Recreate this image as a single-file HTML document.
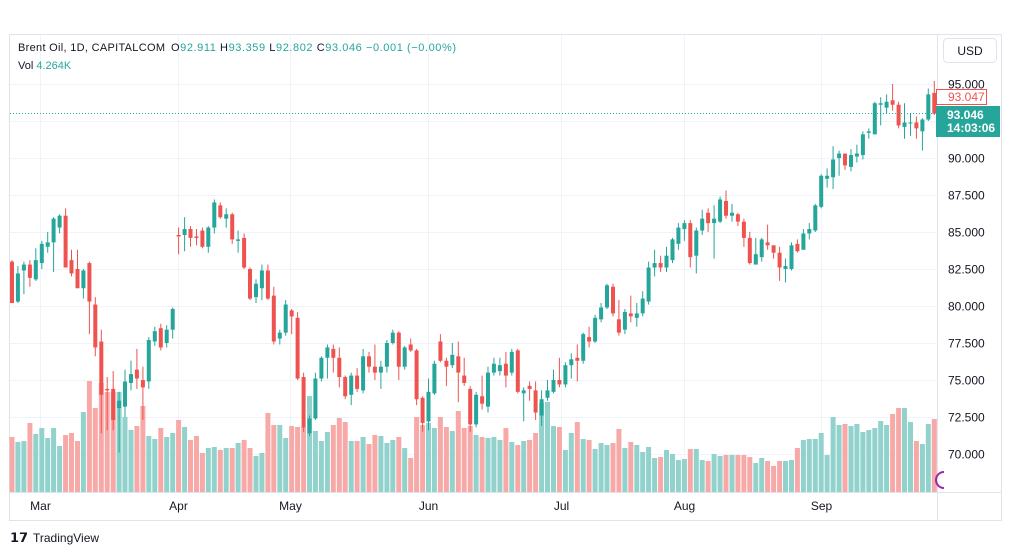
<!DOCTYPE html>
<html><head><meta charset="utf-8"><style>
html,body{margin:0;padding:0;background:#fff;width:1012px;height:555px;overflow:hidden;font-family:"Liberation Sans",sans-serif}
svg text{font-family:"Liberation Sans",sans-serif}
</style></head><body>
<svg id="chart" width="1012" height="555" xmlns="http://www.w3.org/2000/svg">
<rect x="9.5" y="34.5" width="992" height="486" fill="#fff" stroke="#e0e3eb"/>
<g id="grid"></g>
<g id="vols"></g>
<g id="candles"></g>
<line x1="10" x2="937" y1="113.5" y2="113.5" stroke="#26a69a" stroke-dasharray="1,2"/>
<line x1="937.5" x2="937.5" y1="35" y2="520" stroke="#e0e3eb"/>
<line x1="10" x2="1001" y1="492.5" y2="492.5" stroke="#e0e3eb"/>
<g id="yaxis"></g>
<g id="xaxis"></g>
<rect x="943.5" y="38.5" width="53" height="24" rx="4" fill="#fff" stroke="#e0e3eb"/>
<text x="970" y="55" text-anchor="middle" font-size="12" fill="#131722">USD</text>
<rect x="936.5" y="89.5" width="50" height="15" fill="#fff" stroke="#ef5350"/>
<text x="948" y="101" font-size="12" fill="#ef5350">93.047</text>
<rect x="936" y="106" width="64" height="31" fill="#26a69a"/>
<text x="947" y="119" font-size="12" font-weight="bold" fill="#fff">93.046</text>
<text x="947" y="132" font-size="12" font-weight="bold" fill="#fff">14:03:06</text>
<path d="M944,472 A8,8 0 0 0 944,488" fill="none" stroke="#9c27b0" stroke-width="2"/>
<text x="18" y="51" font-size="11" fill="#131722" textLength="147">Brent Oil, 1D, CAPITALCOM</text>
<text x="171" y="51" font-size="11" fill="#131722" textLength="285">O<tspan fill="#26a69a">92.911</tspan>  H<tspan fill="#26a69a">93.359</tspan>  L<tspan fill="#26a69a">92.802</tspan>  C<tspan fill="#26a69a">93.046  −0.001 (−0.00%)</tspan></text>
<text x="18" y="69" font-size="11" fill="#131722">Vol  <tspan fill="#26a69a">4.264K</tspan></text>
<g>
<text x="10" y="542" font-size="13" font-weight="bold" fill="#131722">𝟭𝟳</text>
<text x="33" y="542" font-size="12" fill="#131722">TradingView</text>
</g>
</svg>
<script>
const opens=[83.0,80.3,82.4,82.8,81.8,82.9,84.0,84.3,85.3,86.1,83.1,82.5,81.2,82.9,80.1,77.6,74.4,74.4,73.1,73.2,74.8,75.7,75.0,74.9,77.6,78.5,77.5,78.4,84.8,84.8,85.2,84.7,85.1,84.0,85.3,86.8,85.9,86.2,84.4,84.6,82.5,80.6,81.2,82.4,80.7,77.8,78.2,79.7,79.2,75.2,71.4,72.4,75.1,76.5,77.1,76.5,75.2,74.0,75.3,74.3,76.6,75.9,75.5,75.9,77.5,78.2,75.9,77.4,77.0,73.8,72.2,74.1,77.6,76.3,76.0,76.6,75.3,74.4,72.0,73.9,73.2,75.5,75.6,76.1,75.5,77.0,74.1,74.6,74.3,72.6,73.8,74.2,75.0,74.7,76.0,76.5,76.3,77.9,77.6,79.1,79.9,81.3,79.1,78.4,79.5,79.2,79.5,80.3,82.6,82.9,82.6,83.1,84.2,85.2,85.6,83.4,85.1,86.3,85.6,85.7,87.1,86.1,86.2,85.7,84.6,82.8,83.3,84.3,84.1,83.6,82.5,82.5,84.2,83.8,84.9,85.1,86.7,88.6,88.7,90.0,90.3,89.4,90.1,90.2,91.7,91.6,93.6,93.4,93.9,93.6,92.1,92.4,92.4,91.8,92.6,94.4];
const highs=[83.1,82.7,83.0,83.1,83.9,84.4,85.0,86.0,86.2,86.6,83.8,83.8,82.5,83.0,80.6,78.4,75.2,75.6,74.2,75.7,76.3,77.1,75.9,77.9,78.6,78.8,78.7,79.9,85.3,86.0,85.4,85.2,85.3,85.4,87.2,87.0,86.6,86.3,85.1,84.9,82.6,81.8,82.8,82.8,81.3,78.4,80.4,79.8,79.6,75.5,72.6,75.5,76.6,77.4,77.4,77.2,75.3,75.5,75.8,77.1,76.9,77.4,76.3,77.7,78.4,78.3,77.3,77.8,77.1,73.9,75.1,76.3,78.1,76.5,77.5,77.6,76.5,74.6,74.2,75.3,75.9,76.5,76.5,76.9,77.1,77.1,74.5,74.9,74.9,74.3,75.0,75.7,76.5,76.2,76.8,77.4,78.2,78.6,79.4,80.2,81.5,81.5,80.4,79.8,80.7,80.2,81.0,83.0,83.8,83.4,84.0,84.6,85.6,85.8,85.8,85.3,86.5,86.6,86.8,87.4,87.8,86.9,86.3,85.9,85.0,84.6,84.6,85.5,84.1,84.0,83.2,84.3,84.5,85.2,85.6,86.9,88.9,89.3,90.8,90.5,90.3,90.6,90.9,91.8,92.0,93.8,94.1,94.3,95.0,93.8,93.7,93.0,92.8,92.7,94.7,95.2];
const lows=[80.2,80.2,80.8,81.3,81.7,82.5,83.6,82.3,84.9,82.6,82.0,81.2,80.5,78.1,76.6,71.4,71.6,71.6,70.1,72.5,74.3,74.4,72.3,74.4,77.3,77.0,77.2,77.8,83.5,83.7,84.0,84.1,83.9,83.6,84.9,85.9,85.3,84.2,83.6,82.5,80.4,80.2,80.4,80.4,77.4,77.4,78.0,78.1,75.0,71.5,71.2,72.3,74.9,75.1,75.5,74.5,73.7,73.3,74.2,74.1,75.5,75.0,74.4,75.5,77.4,75.0,75.7,76.9,73.3,71.5,71.6,74.0,76.2,74.6,75.8,73.5,74.6,71.5,71.8,73.0,72.8,75.3,75.3,74.5,75.3,74.1,72.2,73.6,72.3,71.9,73.6,74.1,74.5,74.5,75.1,74.9,76.1,77.2,77.5,78.9,79.8,79.3,78.0,78.1,78.9,78.6,79.3,80.1,82.0,82.3,82.3,82.9,83.8,84.4,82.6,82.2,84.8,85.0,83.2,85.6,85.9,85.7,85.4,84.0,82.8,82.8,83.0,83.8,83.2,81.7,81.6,82.4,83.6,83.8,84.5,85.0,86.6,88.0,87.9,88.8,89.2,89.1,89.7,89.9,91.3,91.6,92.2,93.0,93.2,92.0,91.3,91.5,91.3,90.5,92.5,92.9];
const closes=[80.2,82.2,82.8,81.9,83.1,84.2,84.3,85.9,86.1,82.6,82.2,81.2,82.4,80.3,77.2,74.0,74.3,72.3,73.6,74.9,75.4,75.1,74.5,77.7,78.3,77.2,78.4,79.8,84.7,85.2,84.6,84.6,84.0,85.3,87.0,86.0,86.2,84.5,84.5,82.6,80.5,81.5,82.4,80.5,77.6,78.2,80.1,79.3,75.1,71.8,72.4,75.1,76.5,77.2,76.5,75.2,73.9,75.3,74.4,76.6,75.9,75.5,75.9,77.5,78.2,75.9,77.2,77.0,73.7,72.1,74.2,76.1,76.3,75.9,76.7,75.5,74.8,72.0,74.0,73.4,75.5,76.1,76.0,75.3,76.9,74.2,74.3,74.4,72.8,73.7,74.3,75.0,74.7,76.0,76.4,76.3,78.1,77.6,79.2,79.9,81.4,79.5,78.2,79.6,79.3,79.5,80.5,82.6,82.9,82.6,83.4,84.5,85.3,85.6,83.3,85.1,85.9,85.6,85.9,87.2,86.1,86.3,85.7,84.6,82.9,83.5,84.5,84.1,83.6,82.6,82.7,84.1,83.7,84.9,85.2,86.8,88.8,88.8,89.9,90.3,89.5,90.2,90.3,91.6,91.8,93.7,93.7,93.8,93.6,92.2,92.4,92.4,92.0,92.6,94.3,93.0];
const volumes=[55,50,51,69,58,64,54,64,46,57,59,51,80,111,84,109,100,100,100,75,62,66,86,56,53,64,55,59,72,65,52,56,39,44,45,42,44,44,49,52,44,36,39,79,67,67,54,66,65,65,96,61,51,60,67,74,70,51,51,55,48,57,56,49,52,55,44,34,75,67,69,64,75,65,61,81,64,66,57,55,54,55,52,64,50,47,51,52,59,89,90,66,65,42,59,70,53,52,43,49,47,49,63,44,50,47,40,45,34,35,42,38,32,33,43,43,32,31,38,36,37,37,37,37,35,29,34,31,26,31,31,32,44,52,53,53,59,37,75,67,68,66,68,60,62,64,71,67,78,84,84,70,51,48,68,73];
const priceTicks=[95,92.5,90,87.5,85,82.5,80,77.5,75,72.5,70];
const monthLabels=["Mar","Apr","May","Jun","Jul","Aug","Sep"];
const monthIndex=[4.7,27.9,46.7,69.9,92.3,113,136];

const NS="http://www.w3.org/2000/svg";
const X0=12, STEP=5.95;
function xAt(i){return X0+i*STEP;}
function yAt(p){return 84+(95-p)*14.8;}
function vy(v){return 492-v;}
function mk(tag,attrs,parent){const e=document.createElementNS(NS,tag);for(const k in attrs)e.setAttribute(k,attrs[k]);parent.appendChild(e);return e;}
const grid=document.getElementById('grid'),yax=document.getElementById('yaxis'),xax=document.getElementById('xaxis');
priceTicks.forEach(p=>{
  const y=Math.round(yAt(p))+0.5;
  const l=mk('line',{x1:10,x2:937,y1:y,y2:y,stroke:'#f0f3fa'},grid);
  
  
  const t=mk('text',{x:948,y:y+4,'font-size':12,fill:'#131722'},yax);
  t.textContent=p.toFixed(3);
  
  
});
monthLabels.forEach((m,k)=>{
  const x=Math.round(xAt(monthIndex[k]))+0.5;
  const l=mk('line',{x1:x,x2:x,y1:35,y2:492,stroke:'#f0f3fa'},grid);
  
  
  const t=mk('text',{x:x,y:510,'font-size':12,fill:'#131722','text-anchor':'middle'},xax);
  t.textContent=m;
  
  
});
const vg=document.getElementById('vols'),cg=document.getElementById('candles');
for(let i=0;i<opens.length;i++){
  const up=closes[i]>=opens[i];
  const x=xAt(i);
  const vb=mk('rect',{x:(x-2.5).toFixed(1),y:vy(volumes[i]),width:5,height:volumes[i],fill:up?'#92d2cc':'#f7a9a7'},vg);
  
  
  const col=up?'#26a69a':'#ef5350';
  const hi=Math.max(highs[i],opens[i],closes[i]),lo=Math.min(lows[i],opens[i],closes[i]);
  const w=mk('line',{x1:x.toFixed(1),x2:x.toFixed(1),y1:yAt(hi),y2:yAt(lo),stroke:col,'stroke-width':1},cg);
  
  
  const top=yAt(Math.max(opens[i],closes[i])),bot=yAt(Math.min(opens[i],closes[i]));
  const b=mk('rect',{x:(x-2).toFixed(1),y:top,width:4,height:Math.max(1,bot-top),fill:col},cg);
  
  
}
</script>
</body></html>
